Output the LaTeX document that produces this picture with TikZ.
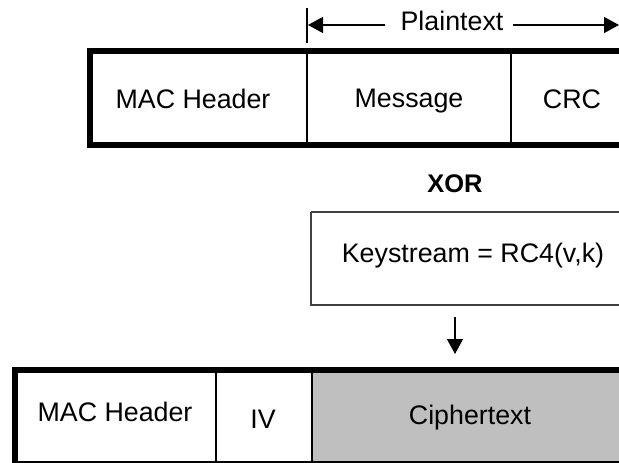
\documentclass[tikz,border=0pt]{standalone}
\usepackage{fontspec}
\setmainfont{Liberation Sans}
\usetikzlibrary{arrows.meta}

\tikzset{
  lbl/.style={inner sep=0pt, text height=19.2pt, text depth=0pt,
    font=\fontsize{26.8}{31}\selectfont},
  boldlbl/.style={lbl, font=\fontsize{25.5}{30}\selectfont\bfseries},
  frame/.style={line width=5.5pt},
  divider/.style={line width=2pt},
  thin/.style={line width=1.3pt},
  tip/.style={-{Triangle[length=15pt,width=16pt]}},
  ksbox/.style={draw=black!75, line width=1.5pt},
  cipherfill/.style={fill=black!25},
}

\begin{document}
\begin{tikzpicture}[x=1pt,y=-1pt]
\useasboundingbox (0,0) rectangle (619,463);
\clip (0,0) rectangle (619,463);

% --- plaintext frame ---
\draw[frame] (90,51) rectangle (700,145);
\draw[divider] (307,51) -- (307,145);
\draw[divider] (511,51) -- (511,145);
\node[lbl] (mac1) at (193,99) {MAC Header};
\node[lbl] (msg)  at (409,98) {Message};
\node[lbl] (crc)  at (572,99) {CRC};

% --- plaintext span marker ---
\coordinate (tickTop) at (307,8);
\coordinate (tickBot) at (307,43);
\draw[thin] (tickTop) -- (tickBot);
\node[lbl] (plain) at (452,21) {Plaintext};
\coordinate (pl) at (308,25);
\coordinate (pr) at (619,25);
\draw[thin,tip] (plain.west |- pl) ++(-15,0) -- (pl);
\draw[thin,tip] (plain.east |- pr) ++(9,0) -- (pr);

% --- XOR and keystream ---
\node[boldlbl] (xor) at (455,183) {XOR};
\draw[ksbox] (311,212) -- (640,212) (311,212) -- (311,305) -- (640,305);
\node[lbl] (ks) at (473,253) {Keystream = RC4(v,k)};

\coordinate (downA) at (455,317);
\coordinate (downB) at (455,354);
\draw[thin,tip] (downA) -- (downB);

% --- ciphertext frame ---
\fill[cipherfill] (312,370) rectangle (700,470);
\draw[frame] (15,370) rectangle (700,470);
\draw[line width=2.5pt] (15,462) -- (700,462);
\draw[divider] (216,370) -- (216,470);
\draw[divider] (312,370) -- (312,470);
\node[lbl] (mac2)   at (115,412) {MAC Header};
\node[lbl] (iv)     at (263,419) {IV};
\node[lbl] (cipher) at (470,415) {Ciphertext};
\end{tikzpicture}
\end{document}
